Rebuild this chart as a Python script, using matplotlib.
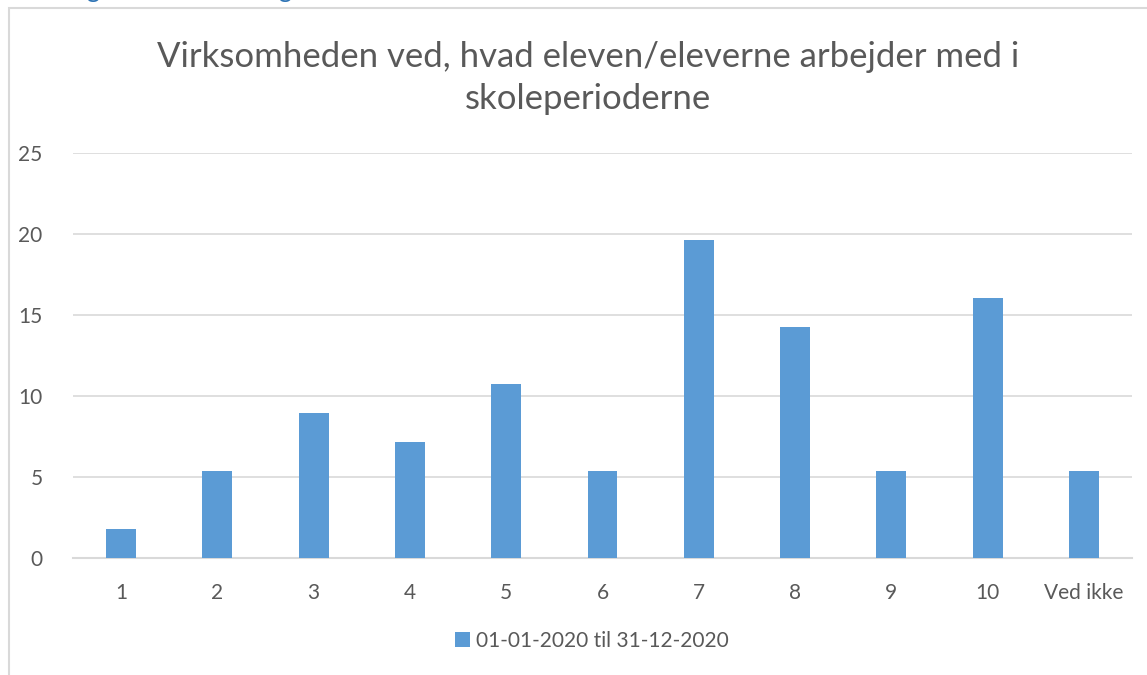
import matplotlib.pyplot as plt
from matplotlib.patches import Rectangle

plt.rcParams['font.family'] = ['Lato', 'DejaVu Sans']

categories = ["1", "2", "3", "4", "5", "6", "7", "8", "9", "10", "Ved ikke"]
values = [1.79, 5.36, 8.93, 7.14, 10.71, 5.36, 19.64, 14.29, 5.36, 16.07, 5.36]
series_name = "01-01-2020 til 31-12-2020"
title = "Virksomheden ved, hvad eleven/eleverne arbejder med i\nskoleperioderne"

text_col = '#595959'
grid_col = '#d9d9d9'
bar_col = '#5b9bd5'

W, H = 1147, 675
fig = plt.figure(figsize=(W / 100, H / 100), dpi=100)

# chart area frame (cut off on right and bottom)
fig.patches.append(Rectangle((9 / W, -0.1), 1.2, 1 - 8 / H + 0.1,
                             transform=fig.transFigure, fill=False,
                             edgecolor=grid_col, lw=1.5))

# descenders of the heading above the chart
for xp in (93, 285):
    fig.text(xp / W, 1 + 2 / H, "g", color='#2e74b5', fontsize=18,
             ha='center', va='baseline')

ax = fig.add_axes([73 / W, 1 - 558 / H, 1059 / W, 405 / H])
x = range(len(categories))
ax.bar(x, values, width=0.31, color=bar_col, label=series_name, zorder=3)

ax.set_xlim(-0.5, len(categories) - 0.5)
ax.set_ylim(0, 25)
ax.set_yticks([0, 5, 10, 15, 20, 25])
ax.set_xticks(list(x))
ax.set_xticklabels(categories)
ax.yaxis.grid(True, color=grid_col, lw=1.2, zorder=0)
for s in ['top', 'right', 'left']:
    ax.spines[s].set_visible(False)
ax.spines['bottom'].set_color(grid_col)
ax.spines['bottom'].set_linewidth(1.5)
ax.tick_params(axis='both', length=0, labelsize=15, colors=text_col)
ax.tick_params(axis='y', pad=22)
ax.tick_params(axis='x', pad=18)
ax.set_facecolor('none')

fig.text(588 / W, 1 - 78 / H, title, ha='center', va='center',
         fontsize=25, color=text_col, linespacing=1.35)

leg = fig.legend(loc='center', bbox_to_anchor=(592 / W, 1 - 641 / H),
                 frameon=False, fontsize=15, handlelength=0.7,
                 handleheight=0.7, handletextpad=0.3)
for t in leg.get_texts():
    t.set_color(text_col)

fig.savefig('out.png', dpi=100)
